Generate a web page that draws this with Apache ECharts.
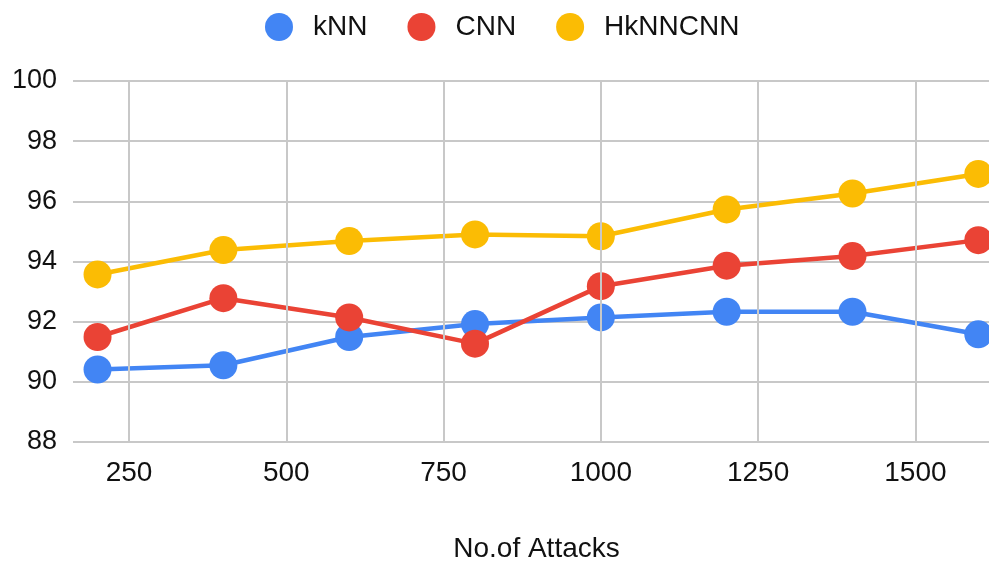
<!DOCTYPE html>
<html>
<head>
<meta charset="utf-8">
<script src="https://cdn.jsdelivr.net/npm/echarts@6/dist/echarts.min.js"></script>
<style>
  html, body { margin: 0; padding: 0; background: #fff; }
  #chart { width: 989px; height: 563px; }
</style>
</head>
<body>
<div id="chart"></div>
<script>
// Number of attacks (x positions)
var attacks = [200, 400, 600, 800, 1000, 1200, 1400, 1600];

// Detection accuracy (%) per method
var knn     = [90.41, 90.55, 91.49, 91.92, 92.14, 92.33, 92.33, 91.58];
var cnn     = [91.49, 92.78, 92.14, 91.27, 93.18, 93.86, 94.18, 94.71];
var hybrid  = [93.57, 94.38, 94.68, 94.90, 94.84, 95.73, 96.26, 96.91];

var seriesNames = ['kNN', 'CNN', 'HkNNCNN'];
var xTicks = [250, 500, 750, 1000, 1250, 1500];

var colors = ['#4285F4', '#EA4335', '#FBBC04'];
var GRID_COLOR = '#c8c8c8';
var FONT = 'Liberation Sans, Arial, sans-serif';

function pairs(vals) {
  return attacks.map(function (a, i) { return [a, vals[i]]; });
}

var chart = echarts.init(document.getElementById('chart'), null, { renderer: 'canvas' });

function lineSeries(name, vals, color) {
  return {
    name: name,
    type: 'line',
    z: 3,
    data: pairs(vals),
    symbol: 'circle',
    symbolSize: 28,
    itemStyle: { color: color },
    lineStyle: { color: color, width: 4.5 },
    emphasis: { disabled: true }
  };
}

// Vertical grid lines at the labelled x ticks
var xGridSeries = {
  name: 'xgrid',
  type: 'line',
  z: 1,
  data: [],
  silent: true,
  markLine: {
    silent: true,
    symbol: ['none', 'none'],
    label: { show: false },
    lineStyle: { color: GRID_COLOR, width: 2, type: 'solid' },
    emphasis: { disabled: true },
    data: xTicks.map(function (v) { return { xAxis: v }; })
  }
};

chart.setOption({
  animation: false,
  color: colors,
  legend: {
    data: seriesNames,
    left: 260,
    top: 8,
    icon: 'circle',
    itemWidth: 28,
    itemHeight: 28,
    itemGap: 40,
    textStyle: { fontFamily: FONT, fontSize: 28, color: '#111', padding: [0, 0, 0, 15] }
  },
  grid: {
    left: 73, right: 0, top: 81, bottom: 121,
    containLabel: false,
    outerBoundsMode: 'none'
  },
  xAxis: {
    type: 'value',
    min: 161,
    max: 1617,
    axisLine: { show: false },
    axisTick: { show: false },
    axisLabel: {
      fontFamily: FONT, fontSize: 28, color: '#111', margin: 17,
      customValues: xTicks,
      formatter: function (v) { return String(v); }
    },
    splitLine: { show: false },
    name: 'No.of Attacks',
    nameLocation: 'middle',
    nameGap: 93,
    nameTextStyle: { fontFamily: FONT, fontSize: 28, color: '#111', padding: [0, 0, 0, 11] }
  },
  yAxis: {
    type: 'value',
    min: 88,
    max: 100,
    interval: 2,
    axisLine: { show: false },
    axisTick: { show: false },
    axisLabel: { fontFamily: FONT, fontSize: 27, color: '#111', margin: 16 },
    splitLine: { show: true, lineStyle: { color: GRID_COLOR, width: 2 } }
  },
  series: [
    xGridSeries,
    lineSeries(seriesNames[0], knn, colors[0]),
    lineSeries(seriesNames[1], cnn, colors[1]),
    lineSeries(seriesNames[2], hybrid, colors[2])
  ]
});
</script>
</body>
</html>
